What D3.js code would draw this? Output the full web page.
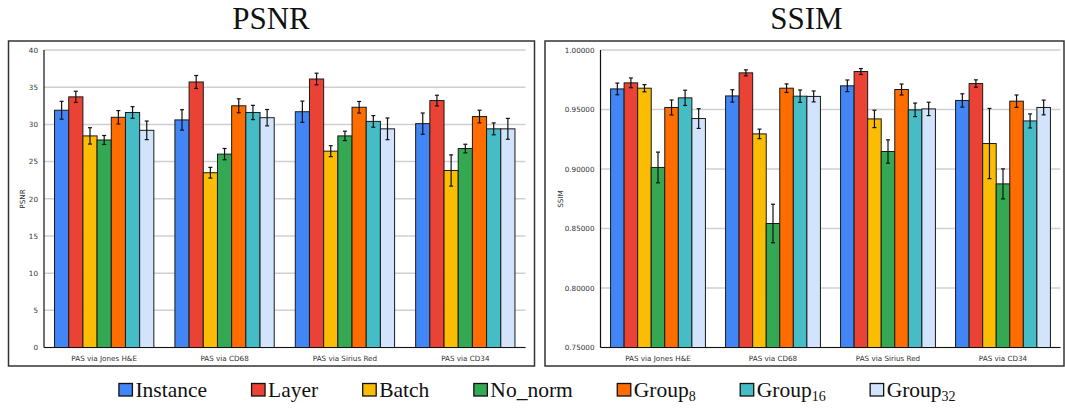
<!DOCTYPE html>
<html>
<body style="margin:0">
<script src="https://d3js.org/d3.v7.min.js"></script>
<script>
      const groups = ["PAS via Jones H&E", "PAS via CD68", "PAS via Sirius Red", "PAS via CD34"];
      const methods = ["Instance", "Layer", "Batch", "No_norm", "Group8", "Group16", "Group32"];
      const legendNames = ["Instance", "Layer", "Batch", "No_norm", "Group", "Group", "Group"];
      const legendSubs = ["", "", "", "", "8", "16", "32"];
      const colors = ["#4285f4", "#ea4335", "#fbbc04", "#34a853", "#ff6d01", "#46bdc6", "#d2e3fc"];

      // one row per group, one value per method
      const psnrMean = [
        [31.9, 33.7, 28.45, 27.9, 30.95, 31.6, 29.2],
        [30.6, 35.7, 23.5, 26.0, 32.5, 31.6, 30.9],
        [31.7, 36.1, 26.4, 28.45, 32.3, 30.4, 29.4],
        [30.1, 33.2, 23.8, 26.75, 31.05, 29.4, 29.4],
      ];
      const psnrErr = [
        [1.2, 0.75, 1.1, 0.6, 0.9, 0.78, 1.25],
        [1.37, 0.87, 0.72, 0.76, 0.94, 0.96, 1.1],
        [1.43, 0.78, 0.74, 0.63, 0.78, 0.78, 1.46],
        [1.43, 0.72, 2.1, 0.58, 0.85, 0.8, 1.4],
      ];
      const ssimMean = [
        [0.9673, 0.9724, 0.9679, 0.9013, 0.9517, 0.9598, 0.9424],
        [0.9614, 0.9808, 0.9295, 0.8542, 0.9679, 0.9612, 0.961],
        [0.9699, 0.9819, 0.9421, 0.9147, 0.9668, 0.9497, 0.9505],
        [0.9576, 0.9718, 0.9214, 0.8875, 0.957, 0.9404, 0.9517],
      ];
      const ssimErr = [
        [0.0049, 0.0041, 0.003, 0.0129, 0.0063, 0.0064, 0.0083],
        [0.0052, 0.0025, 0.004, 0.0162, 0.0036, 0.0052, 0.0046],
        [0.0049, 0.0025, 0.0073, 0.0098, 0.0046, 0.0057, 0.0056],
        [0.0056, 0.0031, 0.0295, 0.0126, 0.0052, 0.0059, 0.0062],
      ];
      const psnrTicks = [0, 5, 10, 15, 20, 25, 30, 35, 40];
      const ssimTicks = [0.75, 0.8, 0.85, 0.9, 0.95, 1.0];

      const W = 1065, H = 409;
      const svg = d3.select("body").append("svg").attr("width", W).attr("height", H)
        .style("background", "#fff");

      function small(sel) {
        sel.attr("font-family", null).attr("font-size", null)
          .style("font-family", "'DejaVu Sans'").style("font-size", "7.2px").style("fill", "#333");
      }
      function serif(sel, size) {
        sel.style("font-family", "'Liberation Serif'").style("font-size", size + "px").style("fill", "#111");
      }

      function drawPanel(p) {
        // outer frame
        svg.append("rect")
          .attr("x", p.frame[0]).attr("y", 41)
          .attr("width", p.frame[1] - p.frame[0]).attr("height", 325)
          .attr("fill", "none").attr("stroke", "#333").attr("stroke-width", 1.5);

        const title = svg.append("text")
          .attr("x", p.titleX).attr("y", 29)
          .attr("text-anchor", "middle")
          .text(p.title);
        serif(title, 31);

        const top = 50, bottom = 347.5;
        const x = d3.scaleBand().domain(groups).range([p.left, p.right])
          .paddingInner(0.175).paddingOuter(0.0875);
        const xi = d3.scaleBand().domain(methods).range([0, x.bandwidth()]);
        const y = d3.scaleLinear().domain(d3.extent(p.ticks)).range([bottom, top]);

        const g = svg.append("g");

        // gridlines
        g.selectAll(".grid").data(p.ticks).enter().append("line")
          .attr("x1", p.left).attr("x2", p.right)
          .attr("y1", (d) => y(d)).attr("y2", (d) => y(d))
          .attr("stroke", "#cfcfcf").attr("stroke-width", 1.5);

        const yAxis = g.append("g").attr("transform", "translate(" + p.left + ",0)")
          .call(d3.axisLeft(y).tickValues(p.ticks).tickSize(0).tickPadding(6).tickFormat(p.fmt));
        yAxis.select(".domain").remove();
        small(yAxis);
        small(yAxis.selectAll("text"));

        const rows = [];
        groups.forEach((grp, gi) => methods.forEach((m, mi) => {
          rows.push({ grp, m, mi, v: p.mean[gi][mi], e: p.err[gi][mi] });
        }));

        g.selectAll(".bar").data(rows).enter().append("rect")
          .attr("x", (d) => x(d.grp) + xi(d.m))
          .attr("width", xi.bandwidth())
          .attr("y", (d) => y(d.v))
          .attr("height", (d) => bottom - y(d.v))
          .attr("fill", (d) => colors[d.mi])
          .attr("stroke", "#1a1a1a").attr("stroke-width", 1);

        // error bars
        const eb = g.selectAll(".err").data(rows).enter().append("g")
          .attr("transform", (d) => "translate(" + (x(d.grp) + xi(d.m) + xi.bandwidth() / 2) + ",0)");
        eb.append("line").attr("y1", (d) => y(d.v - d.e)).attr("y2", (d) => y(d.v + d.e))
          .attr("stroke", "#111").attr("stroke-width", 1.2);
        eb.append("line").attr("x1", -2).attr("x2", 2)
          .attr("y1", (d) => y(d.v + d.e)).attr("y2", (d) => y(d.v + d.e))
          .attr("stroke", "#111").attr("stroke-width", 1.2);
        eb.append("line").attr("x1", -2).attr("x2", 2)
          .attr("y1", (d) => y(d.v - d.e)).attr("y2", (d) => y(d.v - d.e))
          .attr("stroke", "#111").attr("stroke-width", 1.2);

        // axis lines
        g.append("line").attr("x1", p.left).attr("x2", p.left).attr("y1", top).attr("y2", bottom)
          .attr("stroke", "#111").attr("stroke-width", 1.2);
        g.append("line").attr("x1", p.left).attr("x2", p.right).attr("y1", bottom).attr("y2", bottom)
          .attr("stroke", "#111").attr("stroke-width", 1.2);

        const xAxis = g.append("g").attr("transform", "translate(0," + bottom + ")")
          .call(d3.axisBottom(x).tickSize(0).tickPadding(8));
        xAxis.select(".domain").remove();
        small(xAxis);
        small(xAxis.selectAll("text"));

        const lab = svg.append("text")
          .attr("transform", "translate(" + p.labelX + ",199) rotate(-90)")
          .attr("text-anchor", "middle").attr("dy", "0.35em")
          .text(p.title);
        small(lab);
      }

      drawPanel({
        title: "PSNR", titleX: 271, frame: [8.5, 534.5], left: 44, right: 525.5, labelX: 22.5,
        ticks: psnrTicks, fmt: d3.format("d"), mean: psnrMean, err: psnrErr,
      });
      drawPanel({
        title: "SSIM", titleX: 806.5, frame: [545, 1064], left: 600.5, right: 1060.5, labelX: 560,
        ticks: ssimTicks, fmt: d3.format(".5f"), mean: ssimMean, err: ssimErr,
      });

      // legend
      const legend = svg.append("g");
      let lx = 0;
      methods.forEach((m, i) => {
        const item = legend.append("g").attr("transform", "translate(" + lx + ",0)");
        item.append("rect").attr("x", 0.5).attr("y", 383.5).attr("width", 13.5).attr("height", 12.5)
          .attr("fill", colors[i]).attr("stroke", "#111").attr("stroke-width", 1.3);
        const t = item.append("text").attr("x", 17).attr("y", 397);
        serif(t, 21.5);
        t.append("tspan").text(legendNames[i]);
        if (legendSubs[i]) {
          t.append("tspan").style("font-size", "14px").attr("dy", 4).text(legendSubs[i]);
        }
        lx += 17 + t.node().getComputedTextLength() + 44;
      });
      const lw = lx - 44;
      legend.attr("transform", "translate(" + (537 - lw / 2) + ",0)");
</script>
</body>
</html>
